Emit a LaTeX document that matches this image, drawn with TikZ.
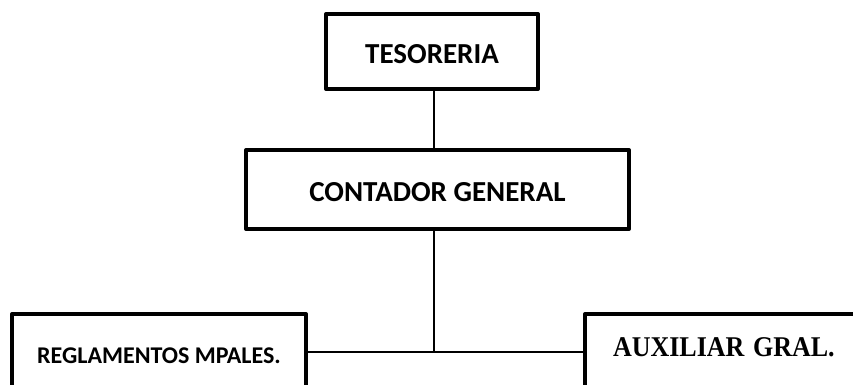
\documentclass[tikz,border=0pt]{standalone}
\usepackage{fontspec}
\setmainfont{Carlito}
\newfontfamily\timesfont{Liberation Serif}
\begin{document}
\begin{tikzpicture}[x=1pt,y=1pt,
  orgbox/.style={draw=black, line width=4pt, line join=round, fill=white, inner sep=0pt, font=\bfseries},
  link/.style={draw=black, line width=1.6pt}]
\useasboundingbox (0,0) rectangle (853,384);
\clip (0,0) rectangle (853,384);
\fill[white] (0,0) rectangle (853,384);
\node[orgbox, minimum width=212pt, minimum height=75pt, font=\bfseries\fontsize{29}{32}\selectfont,
  text height=24pt, text depth=0pt] (tes) at (432,332.5) {TESORERIA};
\node[orgbox, minimum width=383pt, minimum height=79pt, font=\bfseries\fontsize{29}{32}\selectfont,
  text height=23pt, text depth=0pt] (cont) at (437.5,194.5) {CONTADOR GENERAL};
\node[orgbox, minimum width=294pt, minimum height=100pt, font=\bfseries\fontsize{24}{28}\selectfont,
  text height=15.3pt, text depth=17pt] (reg) at (159,20) {REGLAMENTOS MPALES.};
\node[orgbox, minimum width=315pt, minimum height=100pt, font=\timesfont\bfseries\fontsize{26}{30}\selectfont,
  text width=259pt, align=left, inner xsep=28pt, inner ysep=0pt,
  text height=18.5pt, text depth=33pt] (aux) at (742.5,20) {\scalebox{1}[1.1]{AUXILIAR GRAL.}};
\coordinate (j) at (434,32);
\draw[link] (tes.south -| j) -- (cont.north -| j);
\draw[link] (cont.south -| j) -- (j);
\draw[link] (reg.east |- j) -- (aux.west |- j);
\end{tikzpicture}
\end{document}
